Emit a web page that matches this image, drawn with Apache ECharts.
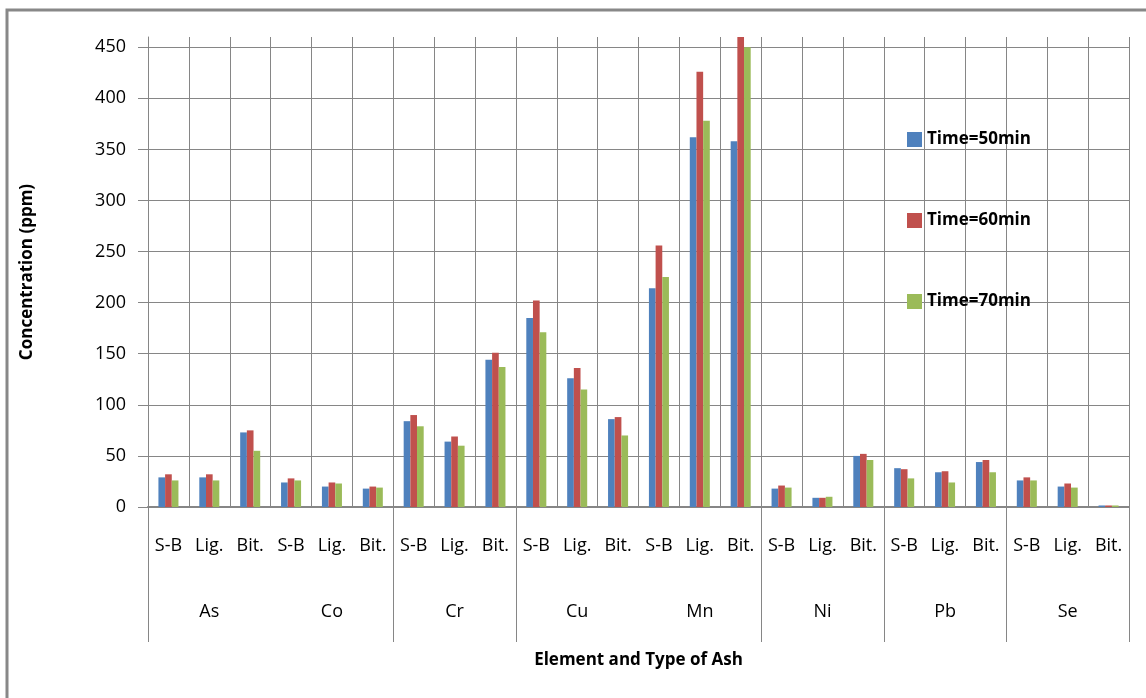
<!DOCTYPE html>
<html>
<head>
<meta charset="utf-8">
<script src="https://cdn.jsdelivr.net/npm/echarts@6/dist/echarts.min.js"></script>
<style>
  html, body { margin: 0; padding: 0; background: #fff; }
  #chart { width: 1146px; height: 698px; }
</style>
</head>
<body>
<div id="chart"></div>
<script>
// element groups and ash types
const elements = ['As', 'Co', 'Cr', 'Cu', 'Mn', 'Ni', 'Pb', 'Se'];
const ashTypes = ['S-B', 'Lig.', 'Bit.'];
const seriesNames = ['Time=50min', 'Time=60min', 'Time=70min'];

// values per element, in order S-B, Lig., Bit.
const time50 = [29, 29, 73, 24, 20, 18, 84, 64, 144, 185, 126, 86, 214, 362, 358, 18, 9, 50, 38, 34, 44, 26, 20, 1.5];
const time60 = [32, 32, 75, 28, 24, 20, 90, 69, 151, 202, 136, 88, 256, 426, 462, 21, 9, 52, 37, 35, 46, 29, 23, 1.5];
const time70 = [26, 26, 55, 26, 23, 19, 79, 60, 137, 171, 115, 70, 225, 378, 450, 19, 10, 46, 28, 24, 34, 26, 19, 1.5];

const colors = ['#4F81BD', '#C0504D', '#9BBB59'];

const typeLabels = [];
elements.forEach(() => ashTypes.forEach(t => typeLabels.push(t)));

const chart = echarts.init(document.getElementById('chart'));

const gridColor = '#868686';
const font = '"Open Sans", "Noto Sans", sans-serif';

// ticks in the label area only at these group boundaries
const groupTicks = [0, 2, 3, 5, 6, 7];

const option = {
    animation: false,
    backgroundColor: '#fff',
    textStyle: { fontFamily: font },
    grid: { left: 148, top: 37, right: 17, bottom: 191, containLabel: false },
    legend: {
        data: seriesNames,
        orient: 'vertical',
        left: 902,
        top: 126,
        itemGap: 64,
        itemWidth: 15,
        itemHeight: 15,
        icon: 'rect',
        textStyle: { fontSize: 17, fontWeight: 'bold', color: '#000', fontFamily: font }
    },
    xAxis: [{
        type: 'category',
        data: typeLabels,
        position: 'bottom',
        axisLine: { show: true, lineStyle: { color: gridColor, width: 2 } },
        axisTick: { show: false },
        splitLine: { show: true, interval: 0, lineStyle: { color: gridColor, width: 1 } },
        axisLabel: { interval: 0, margin: 30, fontSize: 18, color: '#000', fontFamily: font }
    }, {
        type: 'category',
        data: elements,
        position: 'bottom',
        axisLine: { show: false },
        axisTick: {
            show: true,
            length: 135,
            inside: false,
            interval: (i) => groupTicks.indexOf(i) >= 0,
            lineStyle: { color: gridColor, width: 1 }
        },
        axisLabel: { interval: 0, margin: 96, fontSize: 18, color: '#000', fontFamily: font },
        name: 'Element and Type of Ash',
        nameLocation: 'middle',
        nameGap: 145,
        nameTextStyle: { fontSize: 17, fontWeight: 'bold', color: '#000', fontFamily: font }
    }],
    yAxis: {
        type: 'value',
        min: 0,
        max: 460,
        interval: 50,
        name: 'Concentration (ppm)',
        nameLocation: 'middle',
        nameGap: 112,
        nameTextStyle: { fontSize: 17, fontWeight: 'bold', color: '#000', fontFamily: font },
        axisLine: { show: true, lineStyle: { color: gridColor, width: 1 } },
        axisTick: { show: true, length: 10, lineStyle: { color: gridColor } },
        axisLabel: { showMaxLabel: false, margin: 22, fontSize: 18, color: '#000', fontFamily: font },
        splitLine: {
            show: true,
            lineStyle: { color: [gridColor, gridColor, gridColor, gridColor, gridColor, gridColor, gridColor, gridColor, gridColor, gridColor, 'rgba(0,0,0,0)'], width: 1 }
        }
    },
    series: [time50, time60, time70].map((vals, i) => ({
        name: seriesNames[i],
        type: 'bar',
        data: vals,
        barGap: '0%',
        barCategoryGap: '51%',
        clip: true,
        itemStyle: { color: colors[i] }
    })),
    graphic: [{
        type: 'rect',
        shape: { x: 7, y: 10, width: 1200, height: 800 },
        style: { fill: 'none', stroke: '#888', lineWidth: 3 },
        silent: true
    }]
};

chart.setOption(option);
</script>
</body>
</html>
